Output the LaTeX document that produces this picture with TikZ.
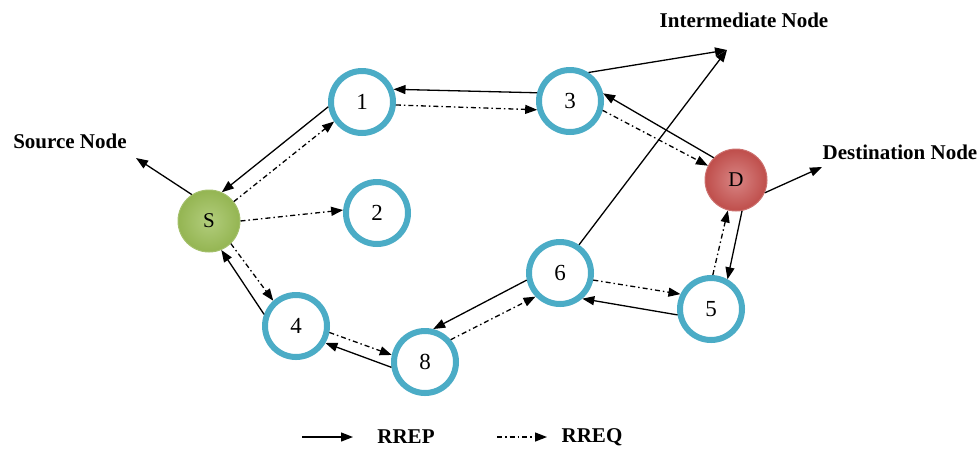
\documentclass[tikz,border=0pt]{standalone}
\usepackage{fontspec}
\setmainfont{Liberation Serif}
\usetikzlibrary{arrows.meta,shadings}
\definecolor{ringblue}{HTML}{4BACC6}
\definecolor{sgreen}{HTML}{94B552}
\definecolor{sgreenin}{HTML}{B2CD7C}
\definecolor{dred}{HTML}{BF4E4B}
\definecolor{dredin}{HTML}{D88584}
\tikzset{
  relay/.style={circle, draw=ringblue, line width=6pt, fill=white, minimum size=62pt, inner sep=0pt, font=\fontsize{23}{23}\selectfont},
  endnode/.style={circle, line width=1pt, minimum size=62pt, inner sep=0pt, shading=radial, font=\fontsize{21}{21}\selectfont},
  tip/.style={-{Triangle[length=12pt,width=9pt]}},
  rrep/.style={draw, line width=1.3pt, tip},
  rreq/.style={draw, line width=1.3pt, tip, dash pattern=on 5pt off 3pt on 1.5pt off 3pt},
  lab/.style={font=\bfseries\fontsize{21}{21}\selectfont, inner sep=0pt}
}
\begin{document}
\begin{tikzpicture}[x=1pt,y=-1pt]
\useasboundingbox (0,0) rectangle (979,448);
% nodes
\node[endnode, draw=sgreen!85!white, inner color=sgreenin, outer color=sgreen] (S) at (209,221) {S};
\node[endnode, draw=dred!80!white, inner color=dredin, outer color=dred] (D) at (736,180) {D};
\node[relay] (n1) at (362,102) {1};
\node[relay] (n2) at (377,213) {2};
\node[relay] (n3) at (570,101) {3};
\node[relay] (n4) at (296,326) {4};
\node[relay] (n8) at (425,362) {8};
\node[relay] (n6) at (560,273) {6};
\node[relay] (n5) at (711,309) {5};
% labels
\node[lab] (srcl) at (70,141) {Source Node};
\node[lab] (iml) at (744,20) {Intermediate Node};
\node[lab] (dstl) at (900,152) {Destination Node};
\coordinate (srctip) at (136,158);
\coordinate (imtip) at (727,50);
\coordinate (dsttip) at (822,167);
\draw[rrep] (S.123) -- (srctip);
\draw[rrep] (n3.57) -- (imtip);
\draw[rrep] (n6.56) -- (imtip);
\draw[rrep] (D.336) -- (dsttip);
% S - 1
\draw[rrep] (n1.188) -- (S.66);
\draw[rreq] (S.38) -- (n1.215);
% 1 - 3
\draw[rrep] (n3.166) -- (n1.22);
\draw[rreq] (n1.355) -- (n3.195);
% 3 - D
\draw[rrep] (D.135) -- (n3.13);
\draw[rreq] (n3.344) -- (D.153);
% S - 2
\draw[rreq] (S.0) -- (n2.175);
% S - 4
\draw[rrep] (n4.160) -- (S.293);
\draw[rreq] (S.314) -- (n4.132);
% 4 - 8
\draw[rreq] (n4.349) -- (n8.168);
\draw[rrep] (n8.189) -- (n4.330);
% 8 - 6
\draw[rrep] (n6.192) -- (n8.76);
\draw[rreq] (n8.41) -- (n6.224);
% 6 - 5
\draw[rreq] (n6.348) -- (n5.154);
\draw[rrep] (n5.190) -- (n6.311);
% 5 - D
\draw[rrep] (D.281) -- (n5.61);
\draw[rreq] (n5.87) -- (D.255);
% legend
\coordinate (l1a) at (302,437);
\coordinate (l1b) at (353,437);
\coordinate (l2a) at (497,437);
\coordinate (l2b) at (547,437);
\draw[rrep] (l1a) -- (l1b);
\draw[rreq] (l2a) -- (l2b);
\node[lab] (rrepl) at (406,437) {RREP};
\node[lab] (rreql) at (592,437) {RREQ};
\end{tikzpicture}
\end{document}
